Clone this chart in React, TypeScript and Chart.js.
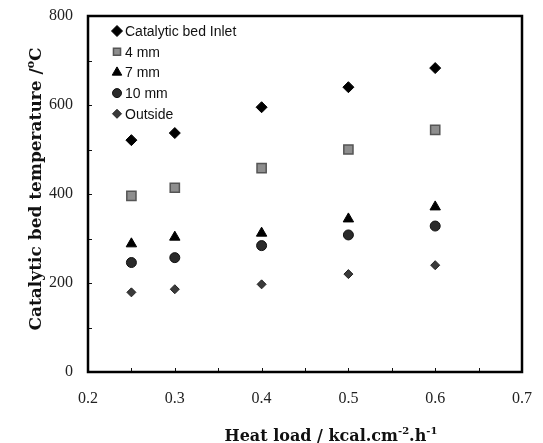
import React, { useEffect, useRef } from 'react';
import { Chart, registerables } from 'chart.js';
import { drawPoint } from 'chart.js/helpers';

Chart.register(...registerables);

const heatLoad = [0.25, 0.3, 0.4, 0.5, 0.6];
const inletTemp = [521, 537, 595, 640, 683];
const mm4Temp = [396, 414, 458, 500, 544];
const mm7Temp = [288, 303, 312, 344, 371];
const mm10Temp = [246, 257, 284, 308, 328];
const outsideTemp = [179, 186, 197, 220, 240];
const seriesLabels = ['Catalytic bed Inlet', '4 mm', '7 mm', '10 mm', 'Outside'];
const xTitleParts = [['Heat load / kcal.cm', false], ['-2', true], ['.h', false], ['-1', true]] as [string, boolean][];
const yTitleParts = [['Catalytic bed temperature /', false], ['o', true], ['C', false]] as [string, boolean][];

const SERIF = '"Liberation Serif", "Times New Roman", serif';
const TITLE_SERIF = '"DejaVu Serif", "Liberation Serif", serif';
const SANS = '"Liberation Sans", Arial, sans-serif';

function drawParts(ctx: CanvasRenderingContext2D, parts: [string, boolean][], size: number, cx: number, baseline: number) {
  const big = `bold ${size}px ${TITLE_SERIF}`;
  const small = `bold ${Math.round(size * 0.62)}px ${TITLE_SERIF}`;
  let total = 0;
  for (const [t, sup] of parts) {
    ctx.font = sup ? small : big;
    total += ctx.measureText(t).width;
  }
  let x = cx - total / 2;
  ctx.textBaseline = 'alphabetic';
  ctx.textAlign = 'left';
  for (const [t, sup] of parts) {
    ctx.font = sup ? small : big;
    ctx.fillText(t, x, baseline - (sup ? size * 0.42 : 0));
    x += ctx.measureText(t).width;
  }
  return total;
}

const framePlugin = {
  id: 'frameAndTitles',
  afterDraw(chart: any) {
    const { ctx, chartArea } = chart;
    const { left, right, top, bottom } = chartArea;
    ctx.save();
    ctx.strokeStyle = '#111';
    ctx.lineWidth = 1;
    const xs = chart.scales.x;
    xs.ticks.forEach((t: any) => {
      const px = Math.round(xs.getPixelForValue(t.value)) + 0.5;
      ctx.beginPath();
      ctx.moveTo(px, bottom);
      ctx.lineTo(px, bottom - 4);
      ctx.stroke();
    });
    const ys = chart.scales.y;
    ys.ticks.forEach((t: any) => {
      const py = Math.round(ys.getPixelForValue(t.value)) + 0.5;
      ctx.beginPath();
      ctx.moveTo(left, py);
      ctx.lineTo(left + 4, py);
      ctx.stroke();
    });
    ctx.strokeStyle = '#000';
    ctx.lineWidth = 2.5;
    ctx.strokeRect(left, top, right - left, bottom - top);
    ctx.fillStyle = '#111';
    drawParts(ctx, xTitleParts, 16, 331, 441);
    ctx.translate(41, 189);
    ctx.rotate(-Math.PI / 2);
    drawParts(ctx, yTitleParts, 17, 0, 0);
    ctx.restore();
    ctx.save();
    const lx = left + 29;
    let ly = top + 15;
    chart.data.datasets.forEach((ds: any) => {
      ctx.fillStyle = ds.backgroundColor;
      ctx.strokeStyle = ds.borderColor;
      ctx.lineWidth = ds.borderWidth;
      drawPoint(ctx, { pointStyle: ds.pointStyle, rotation: 0, borderWidth: ds.borderWidth, radius: ds.legendRadius }, lx, ly);
      ctx.fillStyle = '#111';
      ctx.font = `14px ${SANS}`;
      ctx.textAlign = 'left';
      ctx.textBaseline = 'middle';
      ctx.fillText(ds.label, lx + 8, ly + 1);
      ly += 20.7;
    });
    ctx.restore();
  },
};

export default function App() {
  const ref = useRef<HTMLCanvasElement>(null);
  useEffect(() => {
    document.body.style.margin = '0';
    const toPts = (arr: number[]) => arr.map((y, i) => ({ x: heatLoad[i], y }));
    const chart = new Chart(ref.current!, {
      type: 'scatter',
      data: {
        datasets: [
          { label: seriesLabels[0], data: toPts(inletTemp), pointStyle: 'rectRot', pointRadius: 5.5, legendRadius: 5.5, backgroundColor: '#000', borderColor: '#000', borderWidth: 1 },
          { label: seriesLabels[1], data: toPts(mm4Temp), pointStyle: 'rect', pointRadius: 6.5, legendRadius: 5, backgroundColor: '#8e8e8e', borderColor: '#555', borderWidth: 1.5 },
          { label: seriesLabels[2], data: toPts(mm7Temp), pointStyle: 'triangle', pointRadius: 6, legendRadius: 5.5, backgroundColor: '#000', borderColor: '#000', borderWidth: 1 },
          { label: seriesLabels[3], data: toPts(mm10Temp), pointStyle: 'circle', pointRadius: 5, legendRadius: 4.5, backgroundColor: '#2a2a2a', borderColor: '#111', borderWidth: 1 },
          { label: seriesLabels[4], data: toPts(outsideTemp), pointStyle: 'rectRot', pointRadius: 4.5, legendRadius: 4.5, backgroundColor: '#3a3a3a', borderColor: '#222', borderWidth: 1 },
        ] as any,
      },
      options: {
        animation: false,
        responsive: false,
        layout: { padding: { top: 16, right: 21, left: 0, bottom: 0 } },
        plugins: { legend: { display: false }, tooltip: { enabled: false } },
        scales: {
          x: {
            type: 'linear',
            min: 0.2,
            max: 0.7,
            afterFit: (s: any) => { s.height = 71; s.paddingLeft = 0; s.paddingRight = 0; },
            grid: { display: false },
            border: { display: false },
            ticks: {
              stepSize: 0.05,
              autoSkip: false,
              maxRotation: 0,
              padding: 9,
              color: '#222',
              font: { family: SERIF, size: 16 },
              callback: (v: any) => {
                const n = Number(v) * 10;
                return Math.abs(n - Math.round(n)) < 1e-6 ? (Math.round(n) / 10).toFixed(1) : '';
              },
            },
          },
          y: {
            type: 'linear',
            min: 0,
            max: 800,
            afterFit: (s: any) => { s.width = 88; s.paddingTop = 0; s.paddingBottom = 0; },
            grid: { display: false },
            border: { display: false },
            ticks: {
              stepSize: 100,
              autoSkip: false,
              padding: 7,
              color: '#222',
              font: { family: SERIF, size: 16 },
              callback: (v: any) => (Number(v) % 200 === 0 ? String(v) : ''),
            },
          },
        },
      },
      plugins: [framePlugin],
    });
    return () => chart.destroy();
  }, []);
  return <canvas ref={ref} width={543} height={443} style={{ display: 'block' }} />;
}
